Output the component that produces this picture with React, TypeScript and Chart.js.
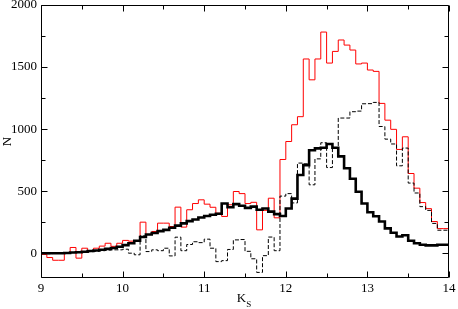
import { useEffect, useRef } from "react";
import { Chart, registerables } from "chart.js";

Chart.register(...registerables);

// Histogram range and binning (Ks from 9 to 14, 70 bins)
const X_MIN = 9;
const X_MAX = 14;
const BIN_WIDTH = 1 / 14;
const Y_MIN = -200;
const Y_MAX = 2000;

const X_TICKS = [9, 10, 11, 12, 13, 14];
const X_MINOR_TICKS = [9.5, 10.5, 11.5, 12.5, 13.5];
const Y_TICKS = [0, 500, 1000, 1500, 2000];
const Y_MINOR_TICKS = [250, 750, 1250, 1750];

const X_TITLE = "K";
const X_TITLE_SUB = "S";
const Y_TITLE = "N";

// Red thin histogram
const RED_COUNTS = [
  0, -10, -35, -57, -57, 0, 46, -40, 40, 20,
  40, 57, 80, 55, 80, 103, 97, 95, 250, 150,
  175, 242, 242, 215, 371, 210, 350, 400, 430, 395,
  370, 322, 296, 390, 497, 480, 400, 410, 188, 345,
  443, 285, 755, 900, 1035, 1100, 1565, 1397, 1565, 1782,
  1532, 1626, 1718, 1677, 1637, 1525, 1532, 1476, 1465, 1207,
  1072, 998, 836, 938, 642, 524, 408, 359, 255, 198,
];

// Black thick histogram
const BLACK_COUNTS = [
  0, 0, 0, 0, 0, 2, 5, 8, 12, 17,
  22, 28, 35, 42, 52, 65, 80, 100, 130, 150,
  163, 178, 188, 205, 222, 240, 258, 272, 288, 300,
  310, 318, 400, 370, 395, 382, 365, 375, 350, 360,
  335, 315, 300, 360, 440, 630, 710, 830, 845, 850,
  880, 850, 780, 685, 600, 495, 400, 330, 298, 255,
  200, 165, 135, 145, 100, 80, 68, 63, 63, 68,
];

// Black dashed histogram
const DASHED_COUNTS = [
  0, 0, -5, 0, 0, 0, 5, 8, 10, 12,
  15, 20, 25, 27, 27, 32, 0, -13, 140, 13,
  27, 20, 40, -22, 129, 20, 70, 92, 85, 113,
  40, -68, -60, 30, 107, 110, 15, -45, -155, -20,
  130, 20, 460, 480, 405, 726, 720, 551, 760, 890,
  690, 845, 1089, 1089, 1140, 1145, 1204, 1205, 1215, 1021,
  919, 880, 704, 847, 565, 485, 375, 345, 240, 185,
];

const FONT_FAMILY = "'Liberation Serif', 'DejaVu Serif', serif";

function toSteps(values: number[]) {
  const pts = values.map((v, i) => ({ x: X_MIN + i * BIN_WIDTH, y: v }));
  pts.push({ x: X_MIN + values.length * BIN_WIDTH, y: values[values.length - 1] });
  return pts;
}

const framePlugin = {
  id: "frameTicks",
  afterDraw(chart: any) {
    const { ctx, chartArea: a, scales } = chart;
    const xs = scales.x;
    const ys = scales.y;
    const L = Math.round(a.left) + 0.5;
    const R = Math.round(a.right) - 0.5;
    const T = Math.round(a.top) + 0.5;
    const B = Math.round(a.bottom) - 0.5;
    ctx.save();
    ctx.strokeStyle = "#000";
    ctx.lineWidth = 1;
    ctx.beginPath();
    ctx.rect(L, T, R - L, B - T);
    const major = 6;
    const minor = 4;
    const xTick = (v: number, len: number) => {
      const p = Math.round(xs.getPixelForValue(v)) + 0.5;
      ctx.moveTo(p, B);
      ctx.lineTo(p, B - len);
      ctx.moveTo(p, T);
      ctx.lineTo(p, T + len);
    };
    const yTick = (v: number, len: number) => {
      const p = Math.round(ys.getPixelForValue(v)) + 0.5;
      ctx.moveTo(L, p);
      ctx.lineTo(L + len, p);
      ctx.moveTo(R, p);
      ctx.lineTo(R - len, p);
    };
    X_TICKS.forEach((v) => xTick(v, major));
    X_MINOR_TICKS.forEach((v) => xTick(v, minor));
    Y_TICKS.forEach((v) => yTick(v, major));
    Y_MINOR_TICKS.forEach((v) => yTick(v, minor));
    ctx.stroke();

    // axis titles
    ctx.fillStyle = "#000";
    ctx.font = `13px ${FONT_FAMILY}`;
    ctx.textBaseline = "alphabetic";
    const cx = (a.left + a.right) / 2;
    const kw = ctx.measureText(X_TITLE).width;
    ctx.font = `9px ${FONT_FAMILY}`;
    const sw = ctx.measureText(X_TITLE_SUB).width;
    const startX = cx - (kw + sw) / 2 - 1;
    ctx.font = `13px ${FONT_FAMILY}`;
    ctx.textAlign = "left";
    ctx.fillText(X_TITLE, startX, 302);
    ctx.font = `9px ${FONT_FAMILY}`;
    ctx.fillText(X_TITLE_SUB, startX + kw, 307);

    ctx.translate(11, (a.top + a.bottom) / 2);
    ctx.rotate(-Math.PI / 2);
    ctx.font = `13px ${FONT_FAMILY}`;
    ctx.textAlign = "center";
    ctx.fillText(Y_TITLE, 0, 0);
    ctx.restore();
  },
};

export default function App() {
  const canvasRef = useRef<HTMLCanvasElement | null>(null);

  useEffect(() => {
    if (!canvasRef.current) return;
    const tickFont = { family: FONT_FAMILY, size: 13 };
    const chart = new Chart(canvasRef.current, {
      type: "line",
      data: {
        datasets: [
          {
            label: "red",
            data: toSteps(RED_COUNTS),
            borderColor: "#ff0000",
            borderWidth: 1,
            stepped: "after",
            pointRadius: 0,
            fill: false,
            order: 2,
          },
          {
            label: "dashed",
            data: toSteps(DASHED_COUNTS),
            borderColor: "#000000",
            borderWidth: 1,
            borderDash: [4, 2],
            stepped: "after",
            pointRadius: 0,
            fill: false,
            order: 1,
          },
          {
            label: "black",
            data: toSteps(BLACK_COUNTS),
            borderColor: "#000000",
            borderWidth: 2.6,
            stepped: "after",
            pointRadius: 0,
            fill: false,
            order: 0,
          },
        ],
      },
      options: {
        animation: false,
        responsive: false,
        devicePixelRatio: 1,
        layout: { padding: { top: 5, right: 9, left: 0, bottom: 0 } },
        plugins: { legend: { display: false }, tooltip: { enabled: false } },
        scales: {
          x: {
            type: "linear",
            min: X_MIN,
            max: X_MAX,
            grid: { display: false, drawTicks: false },
            border: { display: false },
            ticks: {
              font: tickFont,
              color: "#000",
              padding: 3,
              maxRotation: 0,
              autoSkip: false,
              callback: (v: any) => String(v),
            },
            afterBuildTicks: (s: any) => {
              s.ticks = X_TICKS.map((v) => ({ value: v }));
            },
            afterFit: (s: any) => {
              s.height = 31;
              s.paddingLeft = 0;
              s.paddingRight = 0;
            },
          },
          y: {
            type: "linear",
            min: Y_MIN,
            max: Y_MAX,
            grid: { display: false, drawTicks: false },
            border: { display: false },
            ticks: {
              font: tickFont,
              color: "#000",
              padding: 4,
              autoSkip: false,
              callback: (v: any) => String(v),
            },
            afterBuildTicks: (s: any) => {
              s.ticks = Y_TICKS.map((v) => ({ value: v }));
            },
            afterFit: (s: any) => {
              s.width = 41;
              s.paddingTop = 0;
              s.paddingBottom = 0;
            },
          },
        },
      },
      plugins: [framePlugin],
    } as any);
    return () => chart.destroy();
  }, []);

  return (
    <div style={{ position: "fixed", left: 0, top: 0, width: 458, height: 309, background: "#fff" }}>
      <canvas ref={canvasRef} width={458} height={309} style={{ display: "block" }} />
    </div>
  );
}
